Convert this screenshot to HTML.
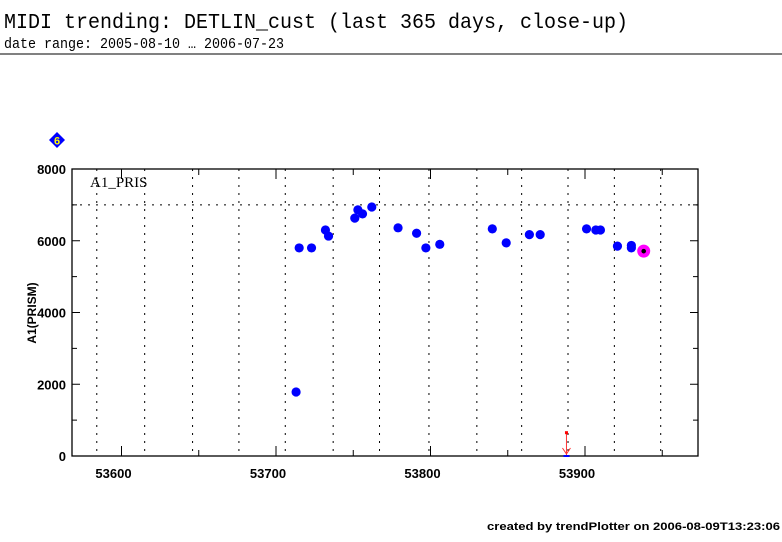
<!DOCTYPE html>
<html><head><meta charset="utf-8"><style>
body{margin:0;background:#fff;width:782px;height:542px;overflow:hidden}
svg{display:block}
</style></head><body>
<svg id="c" width="782" height="542" font-family="Liberation Sans, sans-serif">
<text x="4" y="28" font-family="Liberation Mono, monospace" font-size="21" textLength="624" lengthAdjust="spacingAndGlyphs">MIDI trending: DETLIN_cust (last 365 days, close-up)</text>
<text x="4" y="48" font-family="Liberation Mono, monospace" font-size="15" textLength="280" lengthAdjust="spacingAndGlyphs">date range: 2005-08-10 … 2006-07-23</text>
<line x1="0" y1="54" x2="782" y2="54" stroke="#000"/>
<g><polygon points="57,132 65,140 57,148 49,140" fill="#00f"/><text x="57" y="144.5" font-size="11" font-weight="bold" fill="#ff0" text-anchor="middle">6</text></g>
<text x="36" y="313" font-size="12" font-weight="bold" transform="rotate(-90 36 313)" text-anchor="middle">A1(PRISM)</text>
<text x="90" y="187" font-family="Liberation Serif, serif" font-size="15">A1_PRIS</text>
<g id="grid"></g><g id="axes"></g><g id="marks"></g>
<text x="780" y="530" font-size="11" font-weight="bold" text-anchor="end" textLength="293" lengthAdjust="spacingAndGlyphs">created by trendPlotter on 2006-08-09T13:23:06</text>
</svg>
<script>
const days=[53713,53715,53723,53732,53734,53751,53753,53756,53762,53779,53791,53797,53806,53840,53849,53864,53871,53901,53907,53910,53921,53930,53930];
const values=[1784,5800,5800,6300,6130,6630,6860,6750,6940,6360,6210,5800,5900,6330,5940,6170,6170,6330,6300,6300,5850,5870,5800];
const latestDay=[53938];const latestValue=[5710];
const limitDay=[53888];const limitValue=[650];
const xTicks=[53600,53700,53800,53900];
const yTicks=[0,2000,4000,6000,8000];
const gridDays=[53584,53615,53646,53676,53706,53737,53767,53799,53830,53859,53889,53919,53949];
const L=72,R=698,T=169,B=456;
const X=d=>276+(d-53700)*1.545;
const Y=v=>B-(v/8000)*(B-T);
const NS='http://www.w3.org/2000/svg';
function mk(p,t,a){const e=document.createElementNS(NS,t);for(const k in a)e.setAttribute(k,a[k]);p.appendChild(e);return e;}
const g=document.getElementById('grid'),ax=document.getElementById('axes'),m=document.getElementById('marks');
gridDays.forEach(d=>{const e=mk(g,'line',{x1:X(d),x2:X(d),y1:T,y2:B,stroke:'#000','stroke-dasharray':'2,6','stroke-width':1});

});
{const e=mk(g,'line',{x1:L,x2:R,y1:Y(7000),y2:Y(7000),stroke:'#000','stroke-dasharray':'2,6'});

}
{const e=mk(ax,'rect',{x:L,y:T,width:R-L,height:B-T,fill:'none',stroke:'#000','stroke-width':1.3});

}
yTicks.forEach(v=>{mk(ax,'line',{x1:L,x2:L+8,y1:Y(v),y2:Y(v),stroke:'#000'});mk(ax,'line',{x1:R-8,x2:R,y1:Y(v),y2:Y(v),stroke:'#000'});
const t=mk(ax,'text',{x:L-6,y:Y(v)+5,'font-size':13,'font-weight':'bold','text-anchor':'end'});t.textContent=v;

});
[1000,3000,5000,7000].forEach(v=>{mk(ax,'line',{x1:L,x2:L+5,y1:Y(v),y2:Y(v),stroke:'#000'});mk(ax,'line',{x1:R-5,x2:R,y1:Y(v),y2:Y(v),stroke:'#000'});});
for(let d=53600;d<=53950;d+=50){const maj=d%100==0;mk(ax,'line',{x1:X(d),x2:X(d),y1:B,y2:B-(maj?10:6),stroke:'#000'});mk(ax,'line',{x1:X(d),x2:X(d),y1:T,y2:T+(maj?10:6),stroke:'#000'});}
xTicks.forEach(d=>{const t=mk(ax,'text',{x:X(d)-8,y:B+22,'font-size':13,'font-weight':'bold','text-anchor':'middle'});t.textContent=d;

});
days.forEach((d,i)=>{const c=mk(m,'circle',{cx:X(d),cy:Y(values[i]),r:4.6,fill:'#00f'});

});
latestDay.forEach((d,i)=>{const c=mk(m,'circle',{cx:X(d),cy:Y(latestValue[i]),r:6.5,fill:'#f0f'});


mk(m,'circle',{cx:X(d),cy:Y(latestValue[i]),r:2.3,fill:'#000'});});
limitDay.forEach((d,i)=>{const x=X(d),y=Y(limitValue[i]);const gg=mk(m,'g',{});


mk(gg,'line',{x1:x,x2:x,y1:y,y2:B-1,stroke:'#f33'});mk(gg,'rect',{x:x-1.5,y:y-1.5,width:3,height:3,fill:'#f00'});
mk(gg,'polyline',{points:`${x-4},${B-8} ${x},${B-2} ${x+4},${B-8}`,fill:'none',stroke:'#f33'});
mk(gg,'line',{x1:x-3,x2:x+3,y1:B,y2:B,stroke:'#00f','stroke-width':2});});
</script>
</body></html>
